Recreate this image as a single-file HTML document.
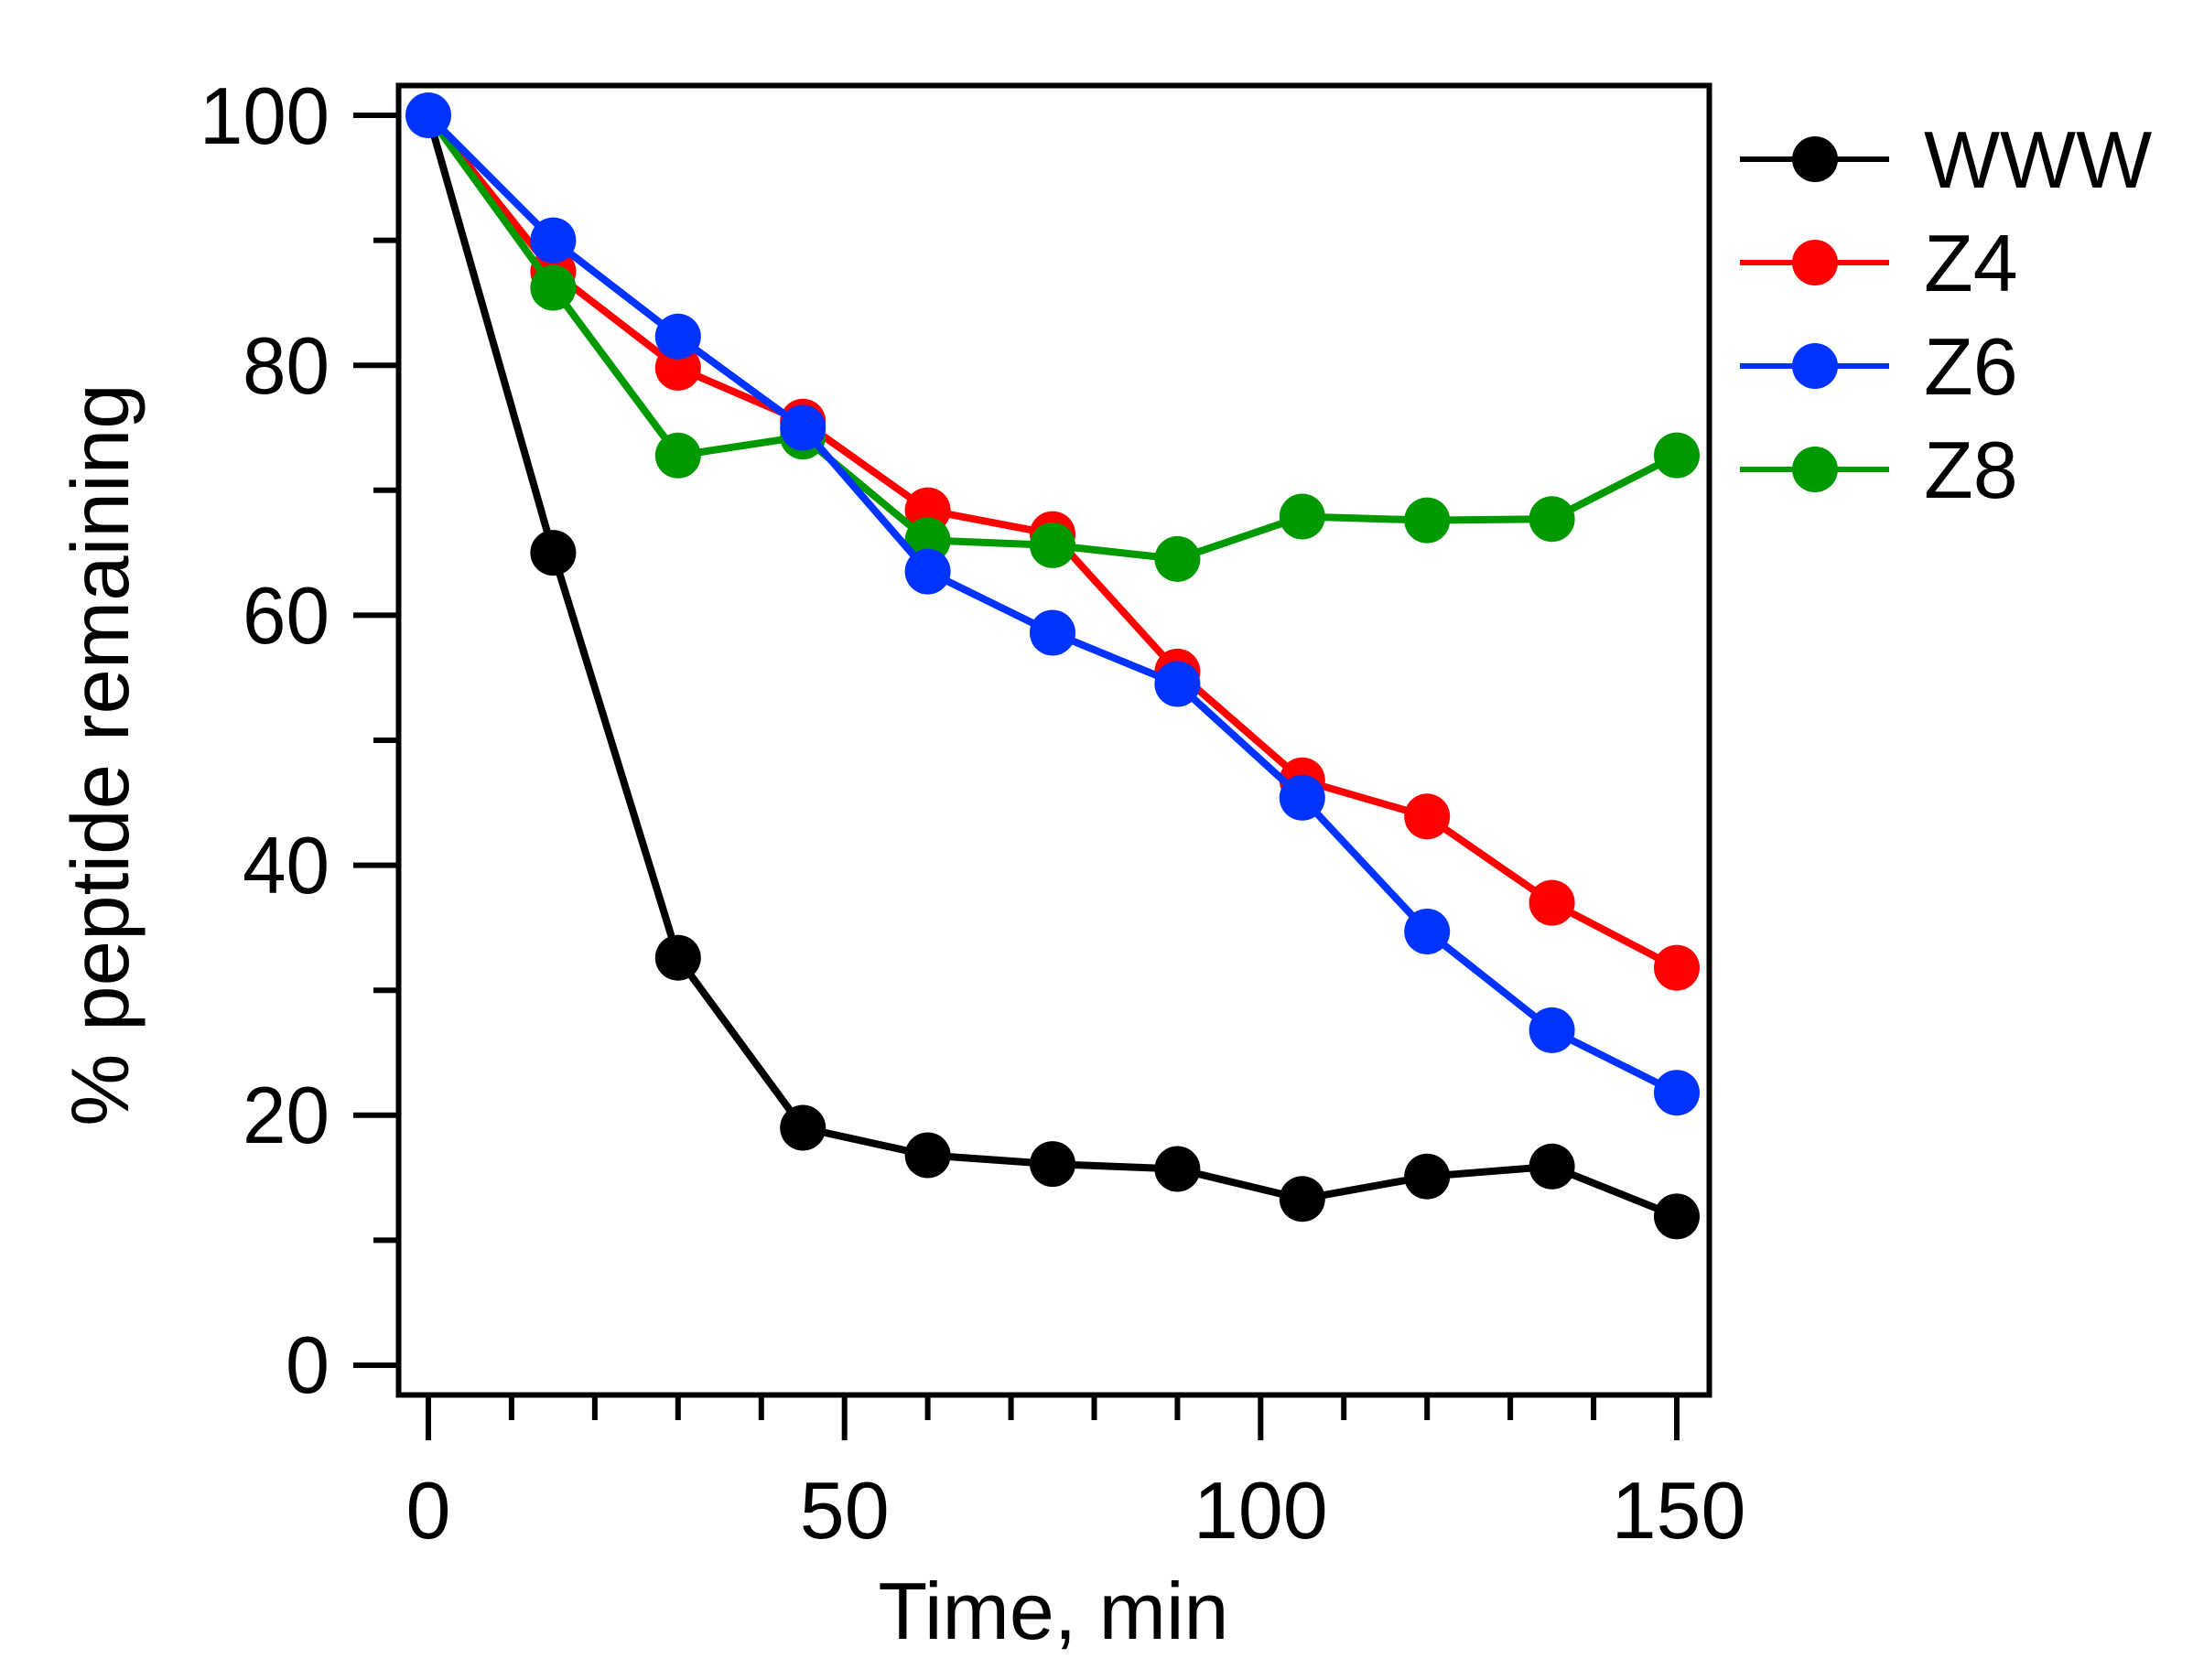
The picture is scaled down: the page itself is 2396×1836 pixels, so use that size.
<!DOCTYPE html>
<html><head><meta charset="utf-8"><style>html,body{margin:0;padding:0;background:#fff}svg{display:block}</style></head>
<body>
<svg width="2396" height="1836" viewBox="0 0 2396 1836" xmlns="http://www.w3.org/2000/svg" font-family="Liberation Sans, Arial, sans-serif">
<rect width="2396" height="1836" fill="#fff"/>
<!-- frame -->
<rect x="435.5" y="93.5" width="1432" height="1431" fill="none" stroke="#000" stroke-width="6"/>
<!-- y ticks -->
<g stroke="#000" stroke-width="6">
<line x1="386" y1="1492" x2="435" y2="1492"/>
<line x1="386" y1="1218.8" x2="435" y2="1218.8"/>
<line x1="386" y1="945.6" x2="435" y2="945.6"/>
<line x1="386" y1="672.4" x2="435" y2="672.4"/>
<line x1="386" y1="399.2" x2="435" y2="399.2"/>
<line x1="386" y1="126" x2="435" y2="126"/>
<line x1="408" y1="1355.4" x2="435" y2="1355.4"/>
<line x1="408" y1="1082.2" x2="435" y2="1082.2"/>
<line x1="408" y1="809" x2="435" y2="809"/>
<line x1="408" y1="535.8" x2="435" y2="535.8"/>
<line x1="408" y1="262.6" x2="435" y2="262.6"/>
<!-- x ticks -->
<line x1="468" y1="1525" x2="468" y2="1574"/>
<line x1="922.7" y1="1525" x2="922.7" y2="1574"/>
<line x1="1377.3" y1="1525" x2="1377.3" y2="1574"/>
<line x1="1832" y1="1525" x2="1832" y2="1574"/>
<line x1="558.9" y1="1525" x2="558.9" y2="1552"/>
<line x1="649.9" y1="1525" x2="649.9" y2="1552"/>
<line x1="740.8" y1="1525" x2="740.8" y2="1552"/>
<line x1="831.8" y1="1525" x2="831.8" y2="1552"/>
<line x1="1013.6" y1="1525" x2="1013.6" y2="1552"/>
<line x1="1104.6" y1="1525" x2="1104.6" y2="1552"/>
<line x1="1195.5" y1="1525" x2="1195.5" y2="1552"/>
<line x1="1286.4" y1="1525" x2="1286.4" y2="1552"/>
<line x1="1468.2" y1="1525" x2="1468.2" y2="1552"/>
<line x1="1559.2" y1="1525" x2="1559.2" y2="1552"/>
<line x1="1650.1" y1="1525" x2="1650.1" y2="1552"/>
<line x1="1741.1" y1="1525" x2="1741.1" y2="1552"/>
</g>
<g font-size="88" fill="#000" text-anchor="end">
<text x="360" y="1522" textLength="48" lengthAdjust="spacingAndGlyphs">0</text>
<text x="360" y="1249" textLength="95" lengthAdjust="spacingAndGlyphs">20</text>
<text x="360" y="976" textLength="95" lengthAdjust="spacingAndGlyphs">40</text>
<text x="360" y="703" textLength="95" lengthAdjust="spacingAndGlyphs">60</text>
<text x="360" y="430" textLength="95" lengthAdjust="spacingAndGlyphs">80</text>
<text x="360" y="157" textLength="142" lengthAdjust="spacingAndGlyphs">100</text>
</g>
<g font-size="88" fill="#000" text-anchor="middle">
<text x="468" y="1681">0</text>
<text x="922.7" y="1681">50</text>
<text x="1377.3" y="1681">100</text>
<text x="1834" y="1681">150</text>
</g>
<text x="1151" y="1791" font-size="88" text-anchor="middle">Time, min</text>
<text transform="translate(140,825) rotate(-90)" font-size="89" text-anchor="middle">% peptide remaining</text>

<!-- WWW -->
<g fill="#000" stroke="#000" stroke-width="8">
<polyline fill="none" points="468,126 604.4,604.1 740.8,1046.7 877.2,1232.5 1013.6,1262.5 1150,1272.1 1286.4,1277.5 1422.8,1310.3 1559.2,1285.7 1695.6,1274.8 1832,1329.4"/>
<g stroke="none">
<circle cx="604.4" cy="604.1" r="25"/><circle cx="740.8" cy="1046.7" r="25"/><circle cx="877.2" cy="1232.5" r="25"/><circle cx="1013.6" cy="1262.5" r="25"/><circle cx="1150" cy="1272.1" r="25"/><circle cx="1286.4" cy="1277.5" r="25"/><circle cx="1422.8" cy="1310.3" r="25"/><circle cx="1559.2" cy="1285.7" r="25"/><circle cx="1695.6" cy="1274.8" r="25"/><circle cx="1832" cy="1329.4" r="25"/>
</g></g>
<!-- Z4 -->
<g fill="#ff0000" stroke="#ff0000" stroke-width="8">
<polyline fill="none" points="468,126 604.4,296.8 740.8,401.9 877.2,460.7 1013.6,557.6 1150,583.6 1286.4,733.9 1422.8,852.7 1559.2,892.3 1695.6,986.6 1832,1057.6"/>
<g stroke="none">
<circle cx="604.4" cy="296.8" r="25"/><circle cx="740.8" cy="401.9" r="25"/><circle cx="877.2" cy="460.7" r="25"/><circle cx="1013.6" cy="557.6" r="25"/><circle cx="1150" cy="583.6" r="25"/><circle cx="1286.4" cy="733.9" r="25"/><circle cx="1422.8" cy="852.7" r="25"/><circle cx="1559.2" cy="892.3" r="25"/><circle cx="1695.6" cy="986.6" r="25"/><circle cx="1832" cy="1057.6" r="25"/>
</g></g>
<!-- Z8 -->
<g fill="#009900" stroke="#009900" stroke-width="8">
<polyline fill="none" points="468,126 604.4,314.5 740.8,497.8 877.2,477.1 1013.6,590.4 1150,595.9 1286.4,610.9 1422.8,564.5 1559.2,568.6 1695.6,567.2 1832,497.6"/>
<g stroke="none">
<circle cx="604.4" cy="314.5" r="25"/><circle cx="740.8" cy="497.8" r="25"/><circle cx="877.2" cy="477.1" r="25"/><circle cx="1013.6" cy="590.4" r="25"/><circle cx="1150" cy="595.9" r="25"/><circle cx="1286.4" cy="610.9" r="25"/><circle cx="1422.8" cy="564.5" r="25"/><circle cx="1559.2" cy="568.6" r="25"/><circle cx="1695.6" cy="567.2" r="25"/><circle cx="1832" cy="497.6" r="25"/>
</g></g>
<!-- Z6 -->
<g fill="#0033ff" stroke="#0033ff" stroke-width="8">
<polyline fill="none" points="468,126 604.4,262.6 740.8,367.8 877.2,467.5 1013.6,624.6 1150,691.5 1286.4,747.5 1422.8,871.8 1559.2,1018 1695.6,1125.9 1832,1194.2"/>
<g stroke="none">
<circle cx="468" cy="126" r="25"/><circle cx="604.4" cy="262.6" r="25"/><circle cx="740.8" cy="367.8" r="25"/><circle cx="877.2" cy="467.5" r="25"/><circle cx="1013.6" cy="624.6" r="25"/><circle cx="1150" cy="691.5" r="25"/><circle cx="1286.4" cy="747.5" r="25"/><circle cx="1422.8" cy="871.8" r="25"/><circle cx="1559.2" cy="1018" r="25"/><circle cx="1695.6" cy="1125.9" r="25"/><circle cx="1832" cy="1194.2" r="25"/>
</g></g>

<!-- legend -->
<g stroke-width="6">
<line x1="1901" y1="174" x2="2064" y2="174" stroke="#000"/><circle cx="1983" cy="174" r="25" fill="#000"/>
<line x1="1901" y1="287" x2="2064" y2="287" stroke="#ff0000"/><circle cx="1983" cy="287" r="25" fill="#ff0000"/>
<line x1="1901" y1="400" x2="2064" y2="400" stroke="#0033ff"/><circle cx="1983" cy="400" r="25" fill="#0033ff"/>
<line x1="1901" y1="513" x2="2064" y2="513" stroke="#009900"/><circle cx="1983" cy="513" r="25" fill="#009900"/>
</g>
<g font-size="88" fill="#000">
<text x="2102" y="205">WWW</text>
<text x="2102" y="318">Z4</text>
<text x="2102" y="431">Z6</text>
<text x="2102" y="544">Z8</text>
</g>
</svg>
</body></html>
